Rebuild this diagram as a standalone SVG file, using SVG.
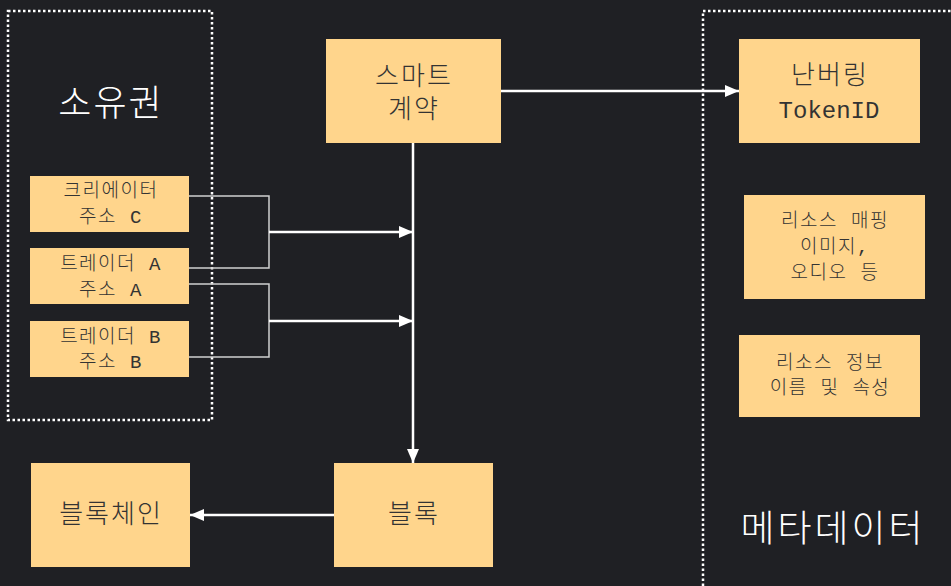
<svg xmlns="http://www.w3.org/2000/svg" width="951" height="586" viewBox="0 0 951 586">
<style>
.box{fill:#ffd58c}
.t{font-family:"Liberation Mono","Noto Sans CJK KR",monospace;fill:#333;text-anchor:middle;dominant-baseline:central;font-weight:300}
.s{font-size:19px;letter-spacing:1.5px}
.b{font-size:26px;letter-spacing:2px}
.w{font-family:"Noto Sans CJK KR",sans-serif;fill:#fff;text-anchor:middle;dominant-baseline:central;font-size:36px;font-weight:300;letter-spacing:2px}
.grp{fill:none;stroke:#fff;stroke-width:2.5;stroke-dasharray:2.5 2.5}
.br{fill:none;stroke:#d0d0d0;stroke-width:1.5}
.ar{fill:none;stroke:#fff;stroke-width:2.5}
</style>
<defs>
<marker id="ah" viewBox="0 0 14 12" refX="14" refY="6" markerWidth="14" markerHeight="12" markerUnits="userSpaceOnUse" orient="auto">
<path d="M0,0 L14,6 L0,12 z" fill="#fff"/>
</marker>
</defs>
<rect width="951" height="586" fill="#1f2024"/>
<g id="group-ownership">
<rect class="grp" x="8" y="11" width="204" height="409"/>
<text class="w" x="111" y="100">소유권</text>
</g>
<g id="group-metadata">
<rect class="grp" x="703" y="11" width="270" height="600"/>
<text class="w" x="833" y="526" style="font-size:37px;letter-spacing:3px">메타데이터</text>
</g>
<g id="connectors">
<polyline class="br" points="189,196 269,196 269,268 189,268"/>
<polyline class="br" points="189,284 269,284 269,357 189,357"/>
<line class="ar" x1="269" y1="232" x2="413" y2="232" marker-end="url(#ah)"/>
<line class="ar" x1="269" y1="321" x2="413" y2="321" marker-end="url(#ah)"/>
<line class="ar" x1="501" y1="91" x2="739" y2="91" marker-end="url(#ah)"/>
<line class="ar" x1="413" y1="143" x2="413" y2="463" marker-end="url(#ah)"/>
<line class="ar" x1="334" y1="515" x2="190" y2="515" marker-end="url(#ah)"/>
</g>
<g id="creator">
<rect class="box" x="30" y="176" width="159" height="56"/>
<text class="t s" x="111" y="192">크리에이터</text>
<text class="t s" x="111" y="218">주소 C</text>
</g>
<g id="traderA">
<rect class="box" x="30" y="248" width="159" height="56"/>
<text class="t s" x="111" y="265">트레이더 A</text>
<text class="t s" x="111" y="291">주소 A</text>
</g>
<g id="traderB">
<rect class="box" x="30" y="321" width="159" height="56"/>
<text class="t s" x="111" y="338">트레이더 B</text>
<text class="t s" x="111" y="363">주소 B</text>
</g>
<g id="smart-contract">
<rect class="box" x="326" y="39" width="175" height="104"/>
<text class="t b" x="414" y="78">스마트</text>
<text class="t b" x="414" y="111">계약</text>
</g>
<g id="tokenid">
<rect class="box" x="739" y="39" width="181" height="104"/>
<text class="t b" x="830" y="77">난버링</text>
<text class="t b" x="829" y="111" style="letter-spacing:0;font-size:24px">TokenID</text>
</g>
<g id="resource-mapping">
<rect class="box" x="744" y="195" width="181" height="104"/>
<text class="t s" x="835" y="222">리소스 매핑</text>
<text class="t s" x="835" y="248">이미지,</text>
<text class="t s" x="835" y="274">오디오 등</text>
</g>
<g id="resource-info">
<rect class="box" x="739" y="335" width="181" height="82"/>
<text class="t s" x="830" y="364">리소스 정보</text>
<text class="t s" x="830" y="389">이름 및 속성</text>
</g>
<g id="blockchain">
<rect class="box" x="31" y="463" width="159" height="104"/>
<text class="t b" x="111" y="516">블록체인</text>
</g>
<g id="block">
<rect class="box" x="334" y="463" width="159" height="104"/>
<text class="t b" x="414" y="516">블록</text>
</g>
</svg>
